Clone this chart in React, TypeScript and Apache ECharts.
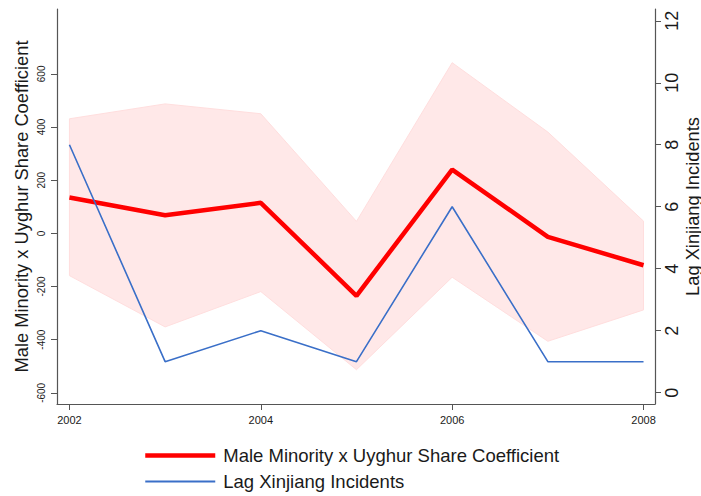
import React, { useEffect, useRef } from "react";
import * as echarts from "echarts";

const years = [2002, 2003, 2004, 2005, 2006, 2007, 2008];
const coefficient = [135, 68, 115, -235, 240, -13, -120];
const ciUpper = [431, 487, 450, 45, 642, 381, 46];
const ciLower = [-159, -352, -219, -513, -165, -406, -288];
const lagIncidents = [8, 1, 2, 1, 6, 1, 1];
const xTicks = [2002, 2004, 2006, 2008];
const leftTicks = [-600, -400, -200, 0, 200, 400, 600];
const rightTicks = [0, 2, 4, 6, 8, 10, 12];

const coefName = "Male Minority x Uyghur Share Coefficient";
const lagName = "Lag Xinjiang Incidents";

const FONT = "'Liberation Sans', Arial, sans-serif";
const AXIS_COLOR = "#555555";
const TEXT_COLOR = "#1a1a1a";
const RED = "#ff0000";
const BLUE = "#3a6fc8";

export default function App() {
  const ref = useRef<HTMLDivElement>(null);

  useEffect(() => {
    if (!ref.current) return;
    const chart = echarts.init(ref.current, undefined, { renderer: "svg" });
    const bandData = years.map((y, i) => [y, ciUpper[i], ciLower[i]]);

    chart.setOption({
      animation: false,
      backgroundColor: "#ffffff",
      grid: {
        left: 57,
        right: 46,
        top: 9,
        bottom: 92,
        containLabel: false,
        outerBoundsMode: "none",
      },
      xAxis: {
        type: "value",
        min: 2001.87,
        max: 2008.12,
        axisLine: { onZero: false, lineStyle: { color: AXIS_COLOR, width: 1.2 } },
        axisTick: { show: true, length: 6, customValues: xTicks, lineStyle: { color: AXIS_COLOR } },
        axisLabel: {
          customValues: xTicks,
          formatter: (v: number) => String(v),
          fontFamily: FONT,
          fontSize: 11,
          color: TEXT_COLOR,
          margin: 10,
        },
        splitLine: { show: false },
      },
      yAxis: [
        {
          type: "value",
          position: "left",
          min: -642,
          max: 844,
          name: coefName,
          nameLocation: "middle",
          nameRotate: 90,
          nameGap: 27,
          nameMoveOverlap: false,
          nameTextStyle: { fontFamily: FONT, fontSize: 18.3, color: TEXT_COLOR },
          axisLine: { show: true, onZero: false, lineStyle: { color: AXIS_COLOR, width: 1.2 } },
          axisTick: { show: true, length: 6, customValues: leftTicks, lineStyle: { color: AXIS_COLOR } },
          axisLabel: {
            customValues: leftTicks,
            rotate: 90,
            fontFamily: FONT,
            fontSize: 10,
            color: TEXT_COLOR,
            margin: 11,
          },
          splitLine: { show: false },
        },
        {
          type: "value",
          position: "right",
          min: -0.365,
          max: 12.38,
          name: lagName,
          nameLocation: "middle",
          nameRotate: 90,
          nameGap: 28,
          nameMoveOverlap: false,
          nameTextStyle: { fontFamily: FONT, fontSize: 18.3, color: TEXT_COLOR },
          axisLine: { show: true, onZero: false, lineStyle: { color: AXIS_COLOR, width: 1.2 } },
          axisTick: { show: true, length: 6, customValues: rightTicks, lineStyle: { color: AXIS_COLOR } },
          axisLabel: {
            customValues: rightTicks,
            rotate: 90,
            fontFamily: FONT,
            fontSize: 18,
            color: TEXT_COLOR,
            margin: 8,
          },
          splitLine: { show: false },
        },
      ],
      legend: {
        data: [
          { name: coefName, lineStyle: { width: 4.5, color: RED } },
          { name: lagName, lineStyle: { width: 1.8, color: BLUE } },
        ],
        orient: "vertical",
        left: 143,
        top: 446,
        padding: 0,
        itemWidth: 70,
        itemHeight: 14,
        itemGap: 7,
        itemStyle: { opacity: 0 },
        textStyle: {
          fontFamily: FONT,
          fontSize: 18.5,
          color: TEXT_COLOR,
          lineHeight: 19,
          padding: [0, 0, 0, 3],
        },
      },
      series: [
        {
          type: "custom",
          name: "CI",
          xAxisIndex: 0,
          yAxisIndex: 0,
          silent: true,
          z: 1,
          data: bandData,
          encode: { x: 0, y: [1, 2] },
          renderItem: (params: any, api: any) => {
            if (params.dataIndex !== 0) return null;
            const pts: number[][] = [];
            for (let i = 0; i < years.length; i++) pts.push(api.coord([years[i], ciUpper[i]]));
            for (let i = years.length - 1; i >= 0; i--) pts.push(api.coord([years[i], ciLower[i]]));
            return {
              type: "polygon",
              shape: { points: pts },
              style: { fill: "#ffe8e8", stroke: "#ffdede", lineWidth: 1 },
            };
          },
        },
        {
          type: "line",
          name: coefName,
          xAxisIndex: 0,
          yAxisIndex: 0,
          z: 3,
          symbol: "none",
          data: years.map((y, i) => [y, coefficient[i]]),
          lineStyle: { color: RED, width: 4.5 },
          itemStyle: { color: RED },
        },
        {
          type: "line",
          name: lagName,
          xAxisIndex: 0,
          yAxisIndex: 1,
          z: 4,
          symbol: "none",
          data: years.map((y, i) => [y, lagIncidents[i]]),
          lineStyle: { color: BLUE, width: 1.6 },
          itemStyle: { color: BLUE },
        },
      ],
    });

    return () => chart.dispose();
  }, []);

  return (
    <div
      ref={ref}
      style={{ position: "fixed", left: 0, top: 0, width: 701, height: 496, background: "#fff" }}
    />
  );
}
